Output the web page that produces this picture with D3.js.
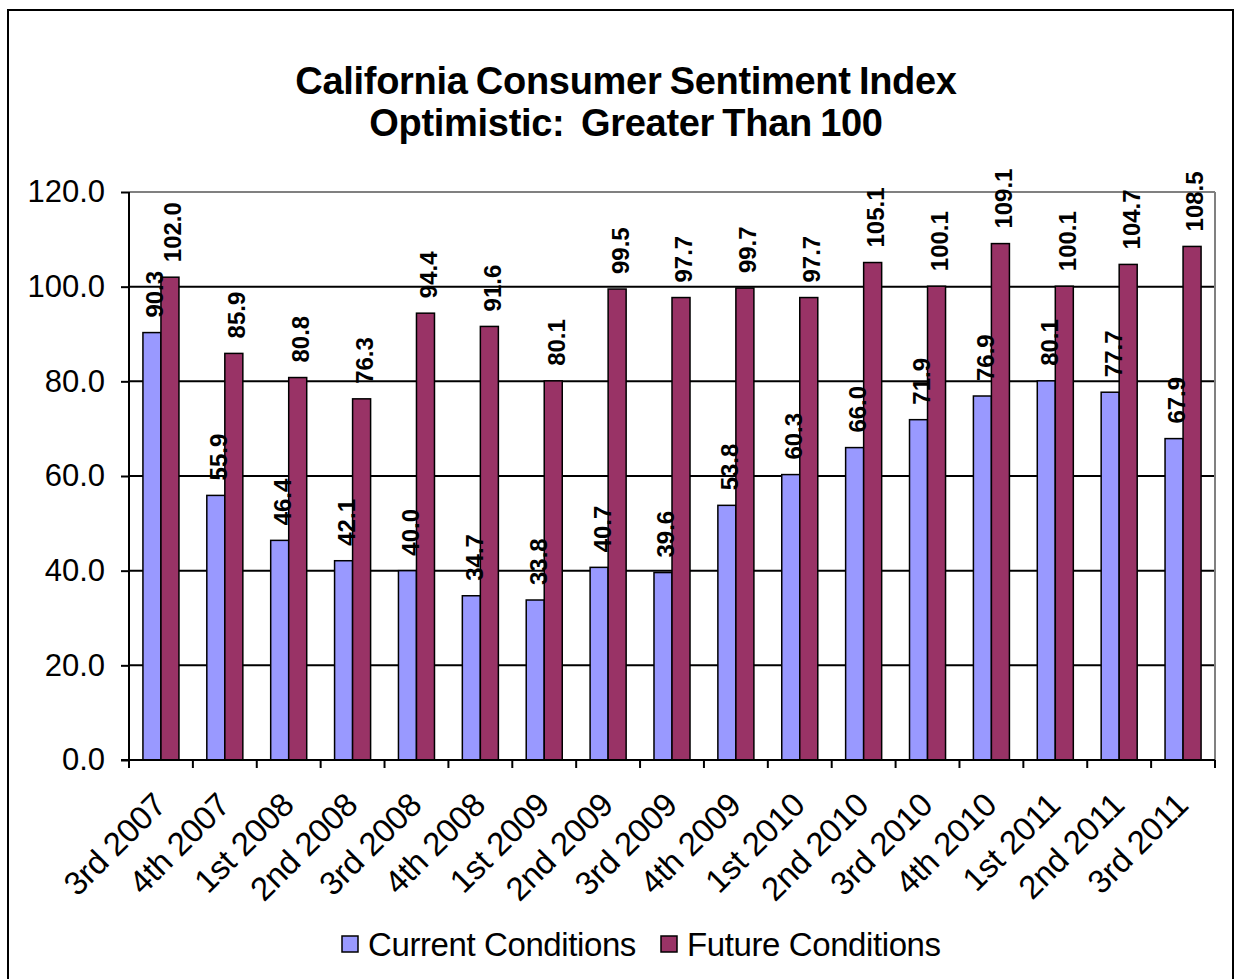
<!DOCTYPE html>
<html>
<head>
<meta charset="utf-8">
<script src="https://cdn.jsdelivr.net/npm/d3@7"></script>
<style>
  body { margin: 0; background: #fff; }
  text { font-family: "Liberation Sans", Arial, sans-serif; }
</style>
</head>
<body>
<div id="chart"></div>
<script>
// chart data
var quarters = ["3rd 2007", "4th 2007", "1st 2008", "2nd 2008", "3rd 2008", "4th 2008",
  "1st 2009", "2nd 2009", "3rd 2009", "4th 2009", "1st 2010", "2nd 2010", "3rd 2010",
  "4th 2010", "1st 2011", "2nd 2011", "3rd 2011"];
var currentVals = [90.3, 55.9, 46.4, 42.1, 40.0, 34.7, 33.8, 40.7, 39.6, 53.8, 60.3, 66.0, 71.9, 76.9, 80.1, 77.7, 67.9];
var futureVals = [102.0, 85.9, 80.8, 76.3, 94.4, 91.6, 80.1, 99.5, 97.7, 99.7, 97.7, 105.1, 100.1, 109.1, 100.1, 104.7, 108.5];
var seriesNames = ["Current Conditions", "Future Conditions"];
var seriesColors = ["#9999FF", "#993366"];
var yTicks = [0, 20, 40, 60, 80, 100, 120];
var titleLines = ["California Consumer Sentiment Index", "Optimistic:  Greater Than 100"];

window.onload = function() {
  drawChart();
};

function drawChart() {
  var width = 1239, height = 979;
  var left = 129, right = 1215, top = 192, bottom = 760;

  var svg = d3.select("#chart").append("svg")
    .attr("width", width)
    .attr("height", height);

  // outer frame
  svg.append("rect")
    .attr("x", 8).attr("y", 10)
    .attr("width", 1225).attr("height", 990)
    .attr("fill", "none")
    .attr("stroke", "#000")
    .attr("stroke-width", 2);

  // title (keep the double space after the colon)
  svg.append("g").selectAll("text")
    .data(titleLines)
    .join("text")
    .attr("x", 626)
    .attr("y", (d, i) => 94 + i * 42)
    .attr("text-anchor", "middle")
    .attr("font-size", 38)
    .attr("font-weight", "bold")
    .attr("letter-spacing", -0.3)
    .attr("word-spacing", -2)
    .style("white-space", "pre")
    .text(d => d);

  var x = d3.scaleBand().domain(quarters).range([left, right]);
  var bw = x.bandwidth();
  var xs = d3.scaleBand().domain(seriesNames).range([bw * 0.218, bw * 0.782]);
  var y = d3.scaleLinear().domain([0, 120]).range([bottom, top]);

  // gridlines
  svg.append("g").selectAll("line")
    .data(yTicks.filter(d => d > 0))
    .join("line")
    .attr("x1", left).attr("x2", right)
    .attr("y1", d => y(d)).attr("y2", d => y(d))
    .attr("stroke", d => d == 120 ? "#808080" : "#000")
    .attr("stroke-width", 2);

  // right edge of plot area
  svg.append("line")
    .attr("x1", right).attr("x2", right)
    .attr("y1", top).attr("y2", bottom)
    .attr("stroke", "#808080")
    .attr("stroke-width", 2);

  var groups = quarters.map((q, i) => ({q: q, vals: [currentVals[i], futureVals[i]]}));
  var bars = [];
  groups.forEach(g => g.vals.forEach((v, j) => bars.push({q: g.q, s: seriesNames[j], v: v, j: j})));

  svg.append("g").selectAll("rect")
    .data(bars)
    .join("rect")
    .attr("x", d => x(d.q) + xs(d.s))
    .attr("y", d => y(d.v))
    .attr("width", xs.bandwidth())
    .attr("height", d => y(0) - y(d.v))
    .attr("fill", d => seriesColors[d.j])
    .attr("stroke", "#000")
    .attr("stroke-width", 1.5);

  // value labels
  svg.append("g").selectAll("text")
    .data(bars)
    .join("text")
    .attr("transform", d => "translate(" + (x(d.q) + xs(d.s) + xs.bandwidth() / 2 + 3) + "," + (y(d.v) - 15) + ") rotate(-90)")
    .attr("dy", "0.35em")
    .attr("font-size", 24)
    .attr("font-weight", "bold")
    .text(d => d.v.toFixed(1));

  // y axis
  var yAxis = svg.append("g")
    .attr("transform", "translate(" + left + ",0)")
    .call(d3.axisLeft(y).tickValues(yTicks).tickFormat(d3.format(".1f")).tickSize(8).tickPadding(16));
  yAxis.select(".domain").attr("stroke", "#000").attr("stroke-width", 2).attr("d", "M0," + top + "V" + bottom);
  yAxis.selectAll(".tick line").attr("stroke", "#000").attr("stroke-width", 2);
  yAxis.selectAll(".tick text")
    .attr("font-family", "Liberation Sans, Arial, sans-serif")
    .attr("font-size", 31)
    .attr("fill", "#000");

  // x axis
  var xAxis = svg.append("g")
    .attr("transform", "translate(0," + bottom + ")");
  xAxis.append("line")
    .attr("x1", left - 8).attr("x2", right)
    .attr("stroke", "#000").attr("stroke-width", 2);
  xAxis.selectAll("line.tk")
    .data(d3.range(quarters.length + 1))
    .join("line")
    .attr("class", "tk")
    .attr("x1", i => left + i * bw).attr("x2", i => left + i * bw)
    .attr("y1", 0).attr("y2", 8)
    .attr("stroke", "#000").attr("stroke-width", 2);
  xAxis.selectAll("text")
    .data(quarters)
    .join("text")
    .attr("transform", d => "translate(" + (x(d) + bw / 2 + 7) + ",47) rotate(-45)")
    .attr("text-anchor", "end")
    .attr("font-size", 33)
    .attr("letter-spacing", -0.3)
    .text(d => d);

  // legend
  var legendX = [342, 661];
  var legend = svg.append("g").selectAll("g")
    .data(seriesNames)
    .join("g")
    .attr("transform", (d, i) => "translate(" + legendX[i] + ",936)");
  legend.append("rect")
    .attr("width", 16).attr("height", 16)
    .attr("fill", (d, i) => seriesColors[i])
    .attr("stroke", "#000").attr("stroke-width", 1.5);
  legend.append("text")
    .attr("x", 26).attr("y", 8)
    .attr("dy", "0.36em")
    .attr("font-size", 33)
    .attr("letter-spacing", -0.4)
    .text(d => d);
}
</script>
</body>
</html>
